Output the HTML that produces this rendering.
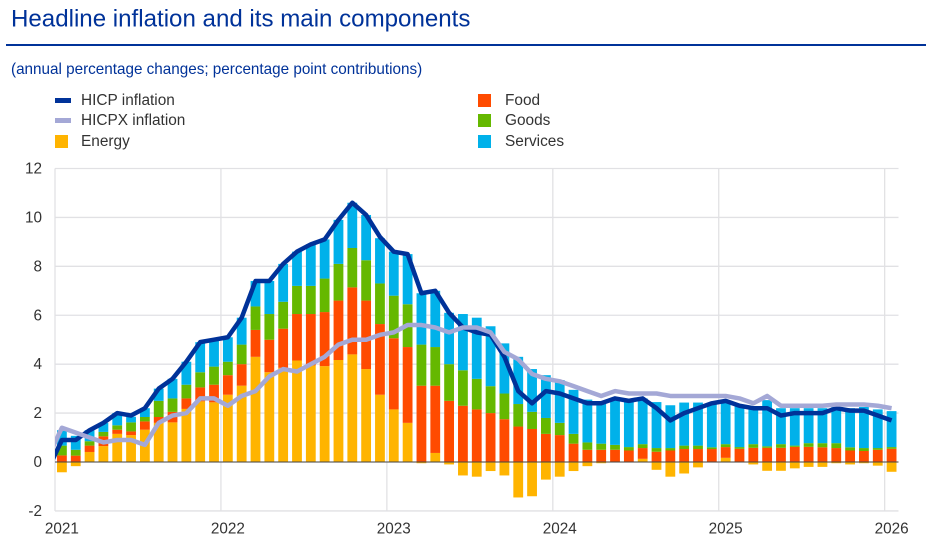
<!DOCTYPE html>
<html lang="en">
<head>
<meta charset="utf-8">
<title>Headline inflation and its main components</title>
<style>
html,body{margin:0;padding:0;background:#fff;width:936px;height:545px;overflow:hidden}
svg{display:block;font-family:"Liberation Sans",sans-serif}
</style>
</head>
<body>
<svg id="chart" width="936" height="545" viewBox="0 0 936 545" xmlns="http://www.w3.org/2000/svg">
  <defs><clipPath id="plot-clip"><rect x="55" y="150" width="850" height="380"/></clipPath></defs>
  <text x="11" y="26.5" font-size="24.1" fill="#003299">Headline inflation and its main components</text>
  <rect x="6" y="44" width="920" height="2" fill="#003299"/>
  <text x="11" y="74" font-size="15.25" fill="#003299">(annual percentage changes; percentage point contributions)</text>

  <g font-size="15.4" fill="#333">
    <g><rect x="55" y="98" width="16" height="5" fill="#003299"/><text x="81" y="105">HICP inflation</text></g>
    <g><rect x="55" y="118" width="16" height="5" fill="#a4a8d6"/><text x="81" y="125">HICPX inflation</text></g>
    <g><rect x="55" y="135" width="13" height="13" fill="#ffb400"/><text x="81" y="146">Energy</text></g>
    <g><rect x="478" y="94" width="13" height="13" fill="#ff4b00"/><text x="505" y="105">Food</text></g>
    <g><rect x="478" y="114" width="13" height="13" fill="#65b800"/><text x="505" y="125">Goods</text></g>
    <g><rect x="478" y="135" width="13" height="13" fill="#00b1ea"/><text x="505" y="146">Services</text></g>
  </g>

  <g id="grid"></g>
  <g id="bars"></g>
  <g id="zero"></g>
  <g id="lines" clip-path="url(#plot-clip)"></g>
  <g id="yticks"></g>
  <g id="xticks"></g>
</svg>
<script>
const yTickValues = [-2, 0, 2, 4, 6, 8, 10, 12];
const yearLabels = ["2021", "2022", "2023", "2024", "2025", "2026"];

// Monthly contributions, Jan 2021 to Jan 2026
const energy = [
  -0.42,-0.17,0.41,0.65,1.15,1.10,1.32,1.60,1.62,2.17,2.48,2.44,
  2.75,3.12,4.30,3.67,3.85,4.15,3.95,3.92,4.17,4.40,3.80,2.75,
  2.15,1.60,-0.05,0.37,-0.10,-0.55,-0.60,-0.37,-0.55,-1.45,-1.40,-0.72,
  -0.60,-0.37,-0.17,-0.05,0,0,0.13,-0.32,-0.60,-0.47,-0.22,0,
  0.17,0,-0.10,-0.36,-0.36,-0.26,-0.20,-0.20,-0.05,-0.10,-0.05,-0.15,
  -0.40];
const food = [
  0.27,0.26,0.26,0.40,0.17,0.15,0.34,0.24,0.43,0.43,0.57,0.72,
  0.80,0.88,1.10,1.33,1.60,1.90,2.10,2.21,2.43,2.74,2.80,2.89,
  2.91,3.10,3.12,2.75,2.50,2.30,2.15,2.00,1.75,1.45,1.35,1.15,
  1.10,0.75,0.50,0.50,0.50,0.47,0.44,0.42,0.47,0.53,0.53,0.53,
  0.44,0.54,0.58,0.58,0.58,0.62,0.62,0.60,0.57,0.47,0.45,0.50,
  0.54];
const goods = [
  0.40,0.24,0.18,0.18,0.18,0.37,0.18,0.66,0.55,0.56,0.62,0.74,
  0.55,0.80,0.96,1.05,1.10,1.15,1.15,1.37,1.50,1.61,1.65,1.66,
  1.74,1.75,1.68,1.58,1.50,1.45,1.25,1.10,1.05,0.92,0.70,0.65,
  0.50,0.40,0.30,0.25,0.20,0.14,0.16,0.15,0.10,0.14,0.14,0.07,
  0.12,0.07,0.15,0.06,0.15,0.05,0.15,0.17,0.20,0.13,0.12,0.07,
  0.07];
const services = [
  0.63,0.57,0.45,0.37,0.50,0.23,0.36,0.50,0.80,0.94,1.23,1.10,
  1.00,1.10,1.04,1.35,1.55,1.40,1.70,1.60,1.80,1.85,1.85,1.85,
  1.80,2.05,2.10,2.30,2.10,2.30,2.50,2.45,2.05,1.93,1.75,1.75,
  1.75,1.80,1.75,1.70,1.90,1.89,1.87,1.88,1.75,1.76,1.76,1.80,
  1.77,1.69,1.52,1.89,1.47,1.53,1.43,1.43,1.48,1.60,1.68,1.58,
  1.47];

// Lines begin one month earlier (Dec 2020); the plot edge cuts that segment
const hicp = [
  -0.3,
  0.9,0.9,1.3,1.6,2.0,1.9,2.2,3.0,3.4,4.1,4.9,5.0,
  5.1,5.9,7.4,7.4,8.1,8.6,8.9,9.1,9.9,10.6,10.1,9.2,
  8.6,8.5,6.9,7.0,6.1,5.5,5.3,5.2,4.3,2.9,2.4,2.9,
  2.8,2.6,2.4,2.4,2.6,2.5,2.6,2.2,1.7,2.0,2.2,2.4,
  2.5,2.3,2.2,2.2,1.9,2.0,2.0,2.0,2.2,2.1,2.1,1.9,
  1.7];
const hicpx = [
  0.2,
  1.4,1.2,1.0,0.8,0.9,0.9,0.7,1.6,1.9,2.0,2.6,2.6,
  2.3,2.7,2.9,3.5,3.8,3.7,4.0,4.3,4.8,5.0,5.0,5.2,
  5.3,5.6,5.6,5.5,5.3,5.5,5.5,5.3,4.5,4.2,3.6,3.4,
  3.3,3.1,2.9,2.7,2.9,2.8,2.8,2.8,2.7,2.7,2.7,2.7,
  2.7,2.6,2.4,2.7,2.3,2.3,2.3,2.3,2.35,2.35,2.35,2.3,
  2.2];

const NS = "http://www.w3.org/2000/svg";
const plotLeft = 55, plotRight = 898.5, plotTop = 168.5, plotBottom = 511;
const monthStep = (plotRight - plotLeft) / 61;
const barWidth = 9.8;

function yScale(v) {
  return 462 - v * (462 - plotTop) / 12;
}
function monthCentre(i) {
  return plotLeft + monthStep * (i + 0.5);
}
function yearEdge(k) {
  return plotLeft + monthStep * 12 * k;
}
function node(tag, attrs, parent) {
  const el = document.createElementNS(NS, tag);
  for (const key in attrs) el.setAttribute(key, attrs[key]);
  parent.appendChild(el);
  return el;
}

const gridLayer = document.getElementById("grid");
yTickValues.forEach(function (v) {
  const l = node("line", {x1: plotLeft, x2: plotRight, y1: yScale(v), y2: yScale(v), stroke: "#e1e1e4", "stroke-width": 1.3}, gridLayer);
  
  
});
yearLabels.forEach(function (label, k) {
  const l = node("line", {x1: yearEdge(k), x2: yearEdge(k), y1: plotTop, y2: plotBottom, stroke: "#e1e1e4", "stroke-width": 1.3}, gridLayer);
  
  
});

const barLayer = document.getElementById("bars");
function drawBar(i, low, high, colour) {
  const top = yScale(Math.max(low, high));
  const bottom = yScale(Math.min(low, high));
  const r = node("rect", {x: monthCentre(i) - barWidth / 2, y: top, width: barWidth, height: bottom - top, fill: colour}, barLayer);
  return r;
}
energy.forEach(function (e, i) {
  let base = Math.max(e, 0);
  const energyBar = drawBar(i, 0, e, "#ffb400");
  
  
  const foodBar = drawBar(i, base, base + food[i], "#ff4b00");
  
  
  base += food[i];
  const goodsBar = drawBar(i, base, base + goods[i], "#65b800");
  
  
  base += goods[i];
  const servicesBar = drawBar(i, base, base + services[i], "#00b1ea");
  
  
});

const zeroLine = node("line", {x1: plotLeft, x2: plotRight, y1: yScale(0), y2: yScale(0), stroke: "#444", "stroke-width": 1}, document.getElementById("zero"));



const lineLayer = document.getElementById("lines");
function linePoints(values) {
  return values.map(function (v, i) {
    return monthCentre(i - 1).toFixed(2) + "," + yScale(v).toFixed(2);
  }).join(" ");
}
const hicpLine = node("polyline", {points: linePoints(hicp), fill: "none", stroke: "#003299", "stroke-width": 4.5, "stroke-linejoin": "round", "stroke-linecap": "butt"}, lineLayer);


const hicpxLine = node("polyline", {points: linePoints(hicpx), fill: "none", stroke: "#a4a8d6", "stroke-width": 4.5, "stroke-linejoin": "round", "stroke-linecap": "butt"}, lineLayer);



const yLayer = document.getElementById("yticks");
yTickValues.forEach(function (v) {
  const t = node("text", {x: 42, y: yScale(v) + 5, "text-anchor": "end", "font-size": 15.3, fill: "#333"}, yLayer);
  
  
  t.textContent = String(v);
});
const xLayer = document.getElementById("xticks");
yearLabels.forEach(function (label, k) {
  const t = node("text", {x: yearEdge(k) + monthStep / 2, y: 533.5, "text-anchor": "middle", "font-size": 15.3, fill: "#333"}, xLayer);
  
  
  t.textContent = label;
});
</script>
</body>
</html>
